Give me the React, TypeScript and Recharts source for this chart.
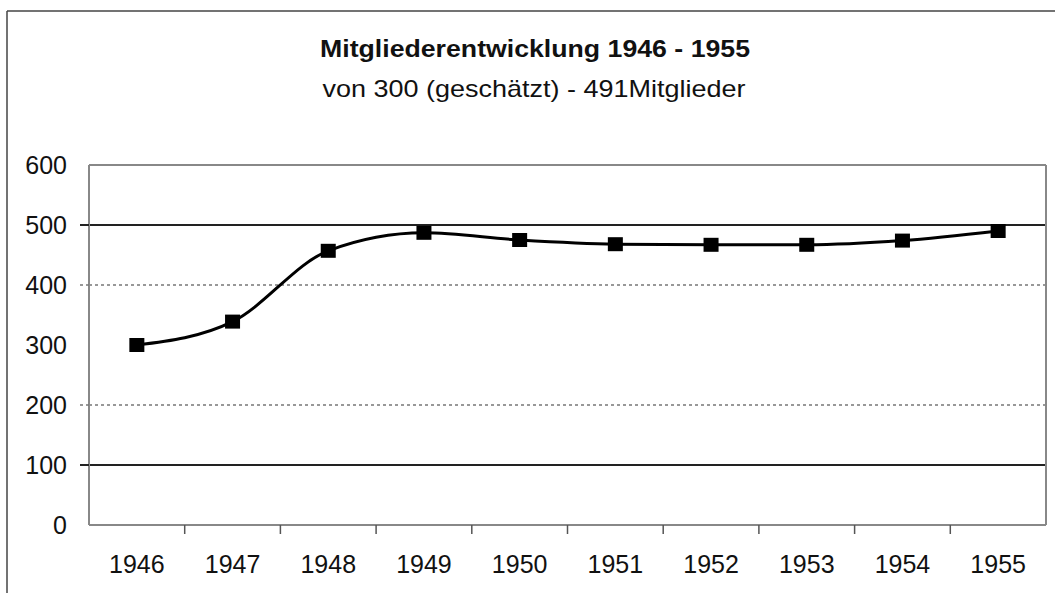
import { LineChart, Line, XAxis, YAxis, ReferenceLine } from 'recharts';

const years = ['1946', '1947', '1948', '1949', '1950', '1951', '1952', '1953', '1954', '1955'];
const members = [300, 339, 457, 487, 475, 468, 467, 467, 474, 490];
const yTicks = [0, 100, 200, 300, 400, 500, 600];
const solidGrid = [500, 100];
const dottedGrid = [400, 200];

const title = 'Mitgliederentwicklung 1946 - 1955';
const subtitle = 'von 300 (geschätzt) - 491Mitglieder';

const W = 1055;
const H = 593;
const Y_AXIS_W = 89;
const RIGHT_W = 9;
const PLOT_W = W - Y_AXIS_W - RIGHT_W;
const BAND = PLOT_W / years.length;
const FONT = '"Liberation Sans", Arial, sans-serif';

const data = years.map((year, i) => ({ year, value: members[i] }));

function SquareDot(props: any) {
  const { cx, cy } = props;
  if (cx == null || cy == null) return null;
  return <rect x={cx - 7.5} y={cy - 7} width={15} height={14} fill="#000" />;
}

function XTick(props: any) {
  const { x, y, payload, index } = props;
  return (
    <g>
      {index > 0 && (
        <line x1={x - BAND / 2} x2={x - BAND / 2} y1={y - 9} y2={y} stroke="#555" strokeWidth={1.5} />
      )}
      <text x={x} y={y + 39} textAnchor="middle" fontSize={25} fill="#111" fontFamily={FONT}>
        {payload.value}
      </text>
    </g>
  );
}

function YTick(props: any) {
  const { x, y, payload } = props;
  const v = payload.value;
  const solid = solidGrid.includes(v);
  const dotted = dottedGrid.includes(v);
  return (
    <g>
      {(solid || dotted) && (
        <line
          x1={x + 13}
          x2={x + 22}
          y1={y}
          y2={y}
          stroke={solid ? '#222' : '#777'}
          strokeWidth={solid ? 2 : 1.5}
          strokeDasharray={dotted ? '3 3' : undefined}
        />
      )}
      <text x={x} y={y + 9} textAnchor="end" fontSize={25} fill="#111" fontFamily={FONT}>
        {v}
      </text>
    </g>
  );
}

export default function App() {
  return (
    <div style={{ position: 'absolute', left: 0, top: 0, width: W, height: H, background: '#fff' }}>
      <LineChart width={W} height={H} data={data} margin={{ top: 165, right: 0, bottom: 0, left: 0 }}>
        <XAxis
          dataKey="year"
          padding={{ left: BAND / 2, right: BAND / 2 }}
          axisLine={{ stroke: '#888', strokeWidth: 2 }}
          tickLine={false}
          tickSize={9}
          tickMargin={0}
          height={68}
          interval={0}
          tick={<XTick />}
        />
        <YAxis
          domain={[0, 600]}
          ticks={yTicks}
          width={Y_AXIS_W}
          axisLine={{ stroke: '#888', strokeWidth: 2 }}
          tickLine={false}
          tickSize={9}
          tickMargin={13}
          tick={<YTick />}
        />
        <YAxis
          yAxisId="r"
          orientation="right"
          domain={[0, 600]}
          width={RIGHT_W}
          tick={false}
          tickLine={false}
          axisLine={{ stroke: '#888', strokeWidth: 2 }}
        />
        <ReferenceLine y={600} stroke="#888" strokeWidth={2} />
        {solidGrid.map((v) => (
          <ReferenceLine key={'s' + v} y={v} stroke="#222" strokeWidth={2} />
        ))}
        {dottedGrid.map((v) => (
          <ReferenceLine key={'d' + v} y={v} stroke="#777" strokeWidth={1.5} strokeDasharray="3 3" />
        ))}
        <Line
          type="monotone"
          dataKey="value"
          stroke="#000"
          strokeWidth={3}
          dot={<SquareDot />}
          activeDot={false}
          isAnimationActive={false}
        />
      </LineChart>
      <svg
        width={W}
        height={H}
        style={{ position: 'absolute', left: 0, top: 0, pointerEvents: 'none' }}
      >
        <line x1={7} x2={7} y1={11} y2={H} stroke="#444" strokeWidth={1.5} />
        <line x1={7} x2={W} y1={11} y2={11} stroke="#444" strokeWidth={1.5} />
        <text
          x={535}
          y={57}
          textAnchor="middle"
          fontSize={24}
          fontWeight="bold"
          fill="#111"
          fontFamily={FONT}
          textLength={430}
          lengthAdjust="spacingAndGlyphs"
        >
          {title}
        </text>
        <text
          x={534}
          y={97}
          textAnchor="middle"
          fontSize={24}
          fill="#111"
          fontFamily={FONT}
          textLength={423}
          lengthAdjust="spacingAndGlyphs"
        >
          {subtitle}
        </text>
      </svg>
    </div>
  );
}
